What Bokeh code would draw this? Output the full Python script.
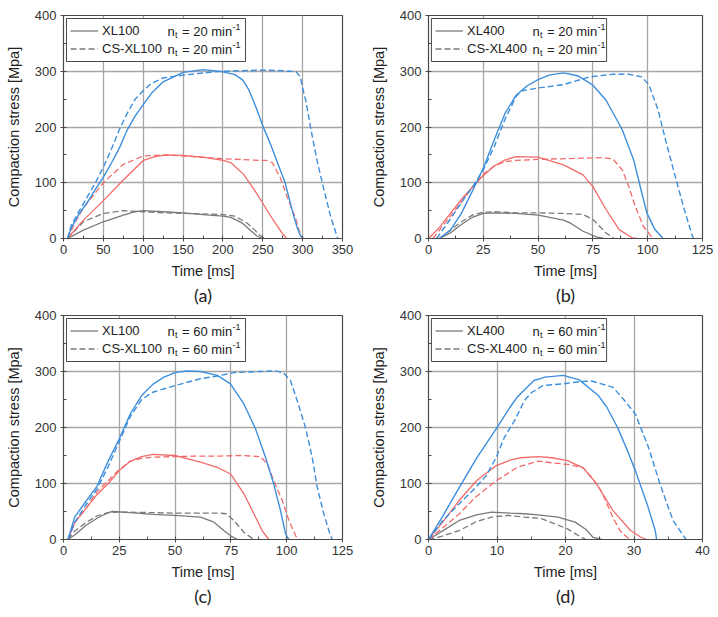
from bokeh.plotting import figure
from bokeh.layouts import column, row
from bokeh.models import Range1d, FixedTicker, Legend, LegendItem, Label, Title, BoxAnnotation
from bokeh.embed import file_html
from bokeh.resources import INLINE

# ---------------- data ----------------
# Panel (a): XL100 / CS-XL100, n_t = 20 min^-1
a_xl_blue_t = [5, 10, 20, 30, 40, 50, 60, 70, 80, 90, 100, 110, 125, 150, 175, 200, 215, 225, 232, 238, 245, 250, 260, 270, 278, 287, 293, 297, 300]
a_xl_blue_s = [0, 20, 45, 65, 88, 110, 135, 162, 195, 220, 240, 260, 281, 298, 303, 299, 294, 284, 268, 248, 222, 202, 168, 130, 100, 50, 20, 6, 0]
a_cs_blue_t = [5, 10, 20, 30, 40, 50, 60, 70, 80, 90, 100, 110, 125, 150, 175, 200, 225, 250, 275, 292, 297, 300, 304, 310, 318, 325, 335, 344]
a_cs_blue_s = [0, 25, 50, 75, 100, 128, 160, 195, 225, 250, 265, 278, 288, 293, 297, 300, 301, 302, 301, 299, 290, 270, 247, 199, 140, 98, 40, 0]
a_xl_red_t = [5, 25, 50, 75, 100, 115, 130, 150, 175, 200, 210, 226, 239, 251, 264, 274, 280]
a_xl_red_s = [0, 33, 68, 105, 140, 147, 150, 149, 146, 140, 136, 115, 88, 61, 31, 10, 0]
a_cs_red_t = [5, 15, 25, 50, 75, 100, 125, 150, 200, 250, 254, 262, 272, 281, 291, 297, 301]
a_cs_red_s = [0, 30, 55, 100, 133, 148, 150, 148, 143, 140, 140, 136, 109, 73, 37, 7, 0]
a_xl_gray_t = [5, 25, 50, 75, 90, 100, 125, 150, 175, 200, 210, 225, 235, 243, 250]
a_xl_gray_s = [0, 15, 30, 42, 48, 50, 48, 46, 43, 40, 38, 27, 14, 4, 0]
a_cs_gray_t = [5, 25, 50, 75, 100, 125, 150, 175, 200, 215, 230, 240, 247, 253]
a_cs_gray_s = [0, 30, 45, 50, 48, 46, 45, 44, 43, 40, 28, 15, 5, 0]

# Panel (b): XL400 / CS-XL400, n_t = 20 min^-1
b_xl_blue_t = [5, 10, 15, 20, 25, 30, 35, 40, 45, 50, 55, 61.6, 68, 75, 81, 88.4, 93.6, 97.3, 99.6, 103.3, 107]
b_xl_blue_s = [0, 15, 45, 85, 126, 177, 225, 257, 274, 285, 293, 297, 292, 275, 248, 195, 141, 82, 46, 16, 0]
b_cs_blue_t = [3.7, 10, 17, 20, 25, 30, 35, 40, 42.4, 50, 61.6, 73.5, 84, 91.3, 97.3, 100.6, 104.8, 108.5, 113, 116.7, 120.4, 121]
b_cs_blue_s = [0, 35, 76, 92, 123, 165, 215, 255, 265, 270, 276, 290, 294.6, 294.6, 290, 275, 230, 171, 105, 52, 4, 0]
b_xl_red_t = [0, 5, 10, 15, 20, 25, 30, 35, 40, 50, 61.6, 70.5, 75, 81, 87, 93, 95]
b_xl_red_s = [0, 20, 45, 70, 92, 113, 130, 141, 147, 146, 132, 114, 93, 52, 16, 1, 0]
b_cs_red_t = [2, 5, 10, 15, 20, 25, 30, 35, 40, 50, 60, 70, 80, 84, 88.4, 91.4, 94.3, 98, 101.4, 102.5]
b_cs_red_s = [0, 15, 40, 65, 92, 115, 130, 138, 140, 142, 143, 144, 145, 143, 123, 93, 58, 22, 5, 0]
b_xl_gray_t = [5, 10, 15, 20, 25, 30, 40, 50, 61.6, 65, 70.5, 76.5, 80]
b_xl_gray_s = [0, 10, 25, 38, 45, 46, 45, 42, 33, 27, 13, 3, 0]
b_cs_gray_t = [5, 10, 15, 20, 25, 30, 40, 50, 61.6, 70.5, 75, 81, 84.7]
b_cs_gray_s = [0, 15, 30, 42, 47, 48, 46, 46, 45, 43, 34, 10, 0]

# Panel (c): XL100 / CS-XL100, n_t = 60 min^-1
c_xl_blue_t = [2, 5, 10, 15, 20, 25, 30, 35, 40, 45, 50, 55, 61.4, 68.9, 74.8, 80.8, 86, 90.5, 94.2, 97.2, 99.5, 101]
c_xl_blue_s = [0, 40, 68, 95, 140, 180, 225, 257, 277, 290, 298, 301, 300, 293, 278, 242, 198, 147, 99, 52, 10, 0]
c_cs_blue_t = [2, 5, 10, 15, 20, 25, 30, 35, 40, 50, 61.4, 70.3, 76.3, 88.2, 95, 98.7, 101.7, 104.7, 108.4, 111.4, 113.7, 116.6, 119.6, 120.5]
c_cs_blue_s = [0, 30, 62, 90, 130, 175, 220, 250, 263, 275, 287, 293, 298, 300, 301, 297, 284, 248, 200, 147, 93, 46, 7, 0]
c_xl_red_t = [2, 5, 10, 15, 20, 25, 30, 35, 40, 50, 61.4, 68.9, 74.8, 80.8, 85.3, 89, 92]
c_xl_red_s = [0, 30, 55, 80, 100, 123, 140, 148, 152, 150, 138, 129, 117, 82, 46, 16, 0]
c_cs_red_t = [2, 5, 10, 15, 20, 25, 30, 35, 40, 50, 60, 70, 80, 88.2, 91.3, 94.2, 98, 101, 104, 105]
c_cs_red_s = [0, 30, 55, 85, 105, 125, 140, 145, 147, 148, 149, 149, 150, 148, 135, 105, 70, 34, 7, 0]
c_xl_gray_t = [2, 5, 10, 15, 20, 22, 30, 40, 50, 61.4, 67.4, 71.8, 75.5, 78]
c_xl_gray_s = [0, 8, 25, 38, 48, 50, 48, 45, 43, 40, 31, 16, 5, 0]
c_cs_gray_t = [2, 5, 10, 15, 20, 25, 40, 50, 60, 70, 73, 76.3, 80.8, 84.5, 85.5]
c_cs_gray_s = [0, 15, 30, 42, 48, 49, 48, 47, 47, 47, 46, 34, 13, 2, 0]

# Panel (d): XL400 / CS-XL400, n_t = 60 min^-1
d_xl_blue_t = [0, 2, 4.5, 7, 9.9, 12, 13, 15.4, 17, 19.7, 22, 24.8, 26, 27.6, 29, 30.2, 31.9, 33.1, 33.3]
d_xl_blue_s = [0, 40, 93, 145, 198, 238, 255, 284, 290, 293, 285, 257, 237, 200, 160, 123, 64, 16, 0]
d_cs_blue_t = [0, 2.1, 4.5, 6.9, 8.5, 9.9, 11.1, 12.6, 14, 15, 16.7, 19.7, 22.1, 23.8, 26.9, 28.5, 30.2, 32.1, 33.8, 35.7, 37.6]
d_cs_blue_s = [0, 34, 64, 93, 115, 147, 183, 213, 248, 262, 275, 278, 282, 283, 272, 250, 224, 165, 99, 34, 0]
d_xl_red_t = [0, 2, 4.5, 7, 9.9, 12, 13.5, 16, 18, 20.3, 22.6, 24.5, 26.9, 29.5, 31, 31.9]
d_xl_red_s = [0, 30, 70, 105, 132, 142, 146, 148, 146, 141, 128, 100, 52, 16, 4, 0]
d_cs_red_t = [0, 2, 4.5, 6.9, 9.9, 13, 16, 18, 20.3, 22.6, 24, 25.2, 26.9, 28, 29, 29.5]
d_cs_red_s = [0, 20, 46, 76, 105, 129, 140, 137, 134, 128, 108, 87, 40, 15, 4, 0]
d_xl_gray_t = [0, 2, 4.5, 7, 9.2, 12, 14, 16, 18.9, 21.4, 23, 24, 25.3]
d_xl_gray_s = [0, 15, 34, 44, 49, 47, 46, 44, 40, 31, 18, 4, 0]
d_cs_gray_t = [0, 2, 4.5, 7, 9.2, 11.6, 14, 16.4, 18, 20.3, 22, 23]
d_cs_gray_s = [0, 6, 16, 32, 40, 43, 40, 37.6, 30, 19, 6, 0]

y_ticks = [0, 100, 200, 300, 400]
y_minor = [50, 150, 250, 350]
x_ticks_a = [0, 50, 100, 150, 200, 250, 300, 350]
x_minor_a = [25, 75, 125, 175, 225, 275, 325]
x_ticks_bc = [0, 25, 50, 75, 100, 125]
x_minor_bc = [12.5, 37.5, 62.5, 87.5, 112.5]
x_ticks_d = [0, 10, 20, 30, 40]
x_minor_d = [5, 15, 25, 35]

# ---------------- styling ----------------
BLUE = "#3d8fdc"
RED = "#f26b6b"
GRAY = "#7a7a7a"
FONT = "Liberation Sans"
DASH = "6 3"


def make_panel(tag, mat, speed, x_max, xt, xm, data, width, height, left, top, bottom, right):
    fw = width - left - right
    fh = height - top - bottom
    p = figure(width=width, height=height, x_range=Range1d(0, x_max), y_range=Range1d(0, 400),
               output_backend="svg", toolbar_location=None,
               min_border_left=left, min_border_right=right, min_border_top=top, min_border_bottom=bottom)
    p.outline_line_color = "#4a4a4a"
    p.outline_line_width = 1.2
    p.xaxis.ticker = FixedTicker(ticks=xt, minor_ticks=xm)
    p.yaxis.ticker = FixedTicker(ticks=y_ticks, minor_ticks=y_minor)
    p.grid.grid_line_color = "#a6a6a6"
    p.grid.grid_line_width = 1.3
    for ax in (p.xaxis[0], p.yaxis[0]):
        ax.axis_line_color = "#4a4a4a"
        ax.major_tick_in = 3
        ax.major_tick_out = 3
        ax.minor_tick_in = 3
        ax.minor_tick_out = 0
        ax.major_tick_line_color = "#4a4a4a"
        ax.minor_tick_line_color = "#4a4a4a"
        ax.major_label_text_font = FONT
        ax.major_label_text_font_size = "13px"
        ax.major_label_text_color = "#333333"
        ax.major_label_standoff = 3
        ax.axis_label_text_font = FONT
        ax.axis_label_text_font_size = "14.5px"
        ax.axis_label_text_font_style = "normal"
        ax.axis_label_text_color = "#222222"
    p.xaxis.axis_label = "Time [ms]"
    p.xaxis.axis_label_standoff = 6
    p.yaxis.axis_label = "Compaction stress [Mpa]"
    p.yaxis.major_label_standoff = 4
    p.yaxis.axis_label_standoff = 10

    # white legend panel (below the curves, above the grid)
    box_l, box_r, box_t, box_b = 3, 182, 3, 46   # pixels from frame top-left
    p.add_layout(BoxAnnotation(left=box_l / fw * x_max, right=box_r / fw * x_max,
                               top=400 - box_t / fh * 400, bottom=400 - box_b / fh * 400,
                               fill_color="white", fill_alpha=1.0, line_color="#4a4a4a",
                               line_width=1, line_alpha=1.0, level="underlay",
                               editable=False))

    (xlg, csg, xlr, csr, xlb, csb) = data
    r1 = p.line(xlg[0], xlg[1], line_color=GRAY, line_width=1.3)
    r2 = p.line(csg[0], csg[1], line_color=GRAY, line_width=1.3, line_dash=DASH)
    p.line(xlr[0], xlr[1], line_color=RED, line_width=1.3)
    p.line(csr[0], csr[1], line_color=RED, line_width=1.3, line_dash=DASH)
    p.line(xlb[0], xlb[1], line_color=BLUE, line_width=1.4)
    p.line(csb[0], csb[1], line_color=BLUE, line_width=1.4, line_dash=DASH)

    leg = Legend(items=[LegendItem(label=mat, renderers=[r1]),
                        LegendItem(label="CS-" + mat, renderers=[r2])],
                 location="top_left")
    leg.margin = 3
    leg.padding = 4
    leg.spacing = 1
    leg.glyph_width = 28
    leg.glyph_height = 17
    leg.label_height = 17
    leg.label_width = 138
    leg.label_standoff = 4
    leg.label_text_font = FONT
    leg.label_text_font_size = "13px"
    leg.label_text_color = "#222222"
    leg.border_line_alpha = 0
    leg.background_fill_alpha = 0
    p.add_layout(leg)

    for dy in (15.5, 33.5):
        common = dict(x=0, y=400, text_baseline="middle", text_font=FONT, text_color="#222222")
        p.add_layout(Label(x_offset=104, y_offset=-dy, text="n", text_font_size="13px", **common))
        p.add_layout(Label(x_offset=111.5, y_offset=-dy - 3.5, text="t", text_font_size="9px", **common))
        p.add_layout(Label(x_offset=118.5, y_offset=-dy, text="= %d min" % speed, text_font_size="13px", **common))
        p.add_layout(Label(x_offset=169, y_offset=-dy + 4, text="-1", text_font_size="9px", **common))

    p.add_layout(Title(text=tag, align="center", text_font="Lato", text_font_size="18px",
                       text_font_style="normal", text_color="#222222", standoff=0), "below")
    return p


pa = make_panel("(a)", "XL100", 20, 350, x_ticks_a, x_minor_a,
                [(a_xl_gray_t, a_xl_gray_s), (a_cs_gray_t, a_cs_gray_s), (a_xl_red_t, a_xl_red_s),
                 (a_cs_red_t, a_cs_red_s), (a_xl_blue_t, a_xl_blue_s), (a_cs_blue_t, a_cs_blue_s)],
                367, 307, 63, 15, 69, 25)
pb = make_panel("(b)", "XL400", 20, 125, x_ticks_bc, x_minor_bc,
                [(b_xl_gray_t, b_xl_gray_s), (b_cs_gray_t, b_cs_gray_s), (b_xl_red_t, b_xl_red_s),
                 (b_cs_red_t, b_cs_red_s), (b_xl_blue_t, b_xl_blue_s), (b_cs_blue_t, b_cs_blue_s)],
                351, 307, 55, 15, 69, 16)
pc = make_panel("(c)", "XL100", 60, 125, x_ticks_bc, x_minor_bc,
                [(c_xl_gray_t, c_xl_gray_s), (c_cs_gray_t, c_cs_gray_s), (c_xl_red_t, c_xl_red_s),
                 (c_cs_red_t, c_cs_red_s), (c_xl_blue_t, c_xl_blue_s), (c_cs_blue_t, c_cs_blue_s)],
                367, 308, 63, 8, 76, 25)
pd = make_panel("(d)", "XL400", 60, 40, x_ticks_d, x_minor_d,
                [(d_xl_gray_t, d_xl_gray_s), (d_cs_gray_t, d_cs_gray_s), (d_xl_red_t, d_xl_red_s),
                 (d_cs_red_t, d_cs_red_s), (d_xl_blue_t, d_xl_blue_s), (d_cs_blue_t, d_cs_blue_s)],
                351, 308, 55, 8, 76, 16)

layout = column(row(pa, pb), row(pc, pd))
open("out.html", "w").write(file_html(layout, INLINE))
